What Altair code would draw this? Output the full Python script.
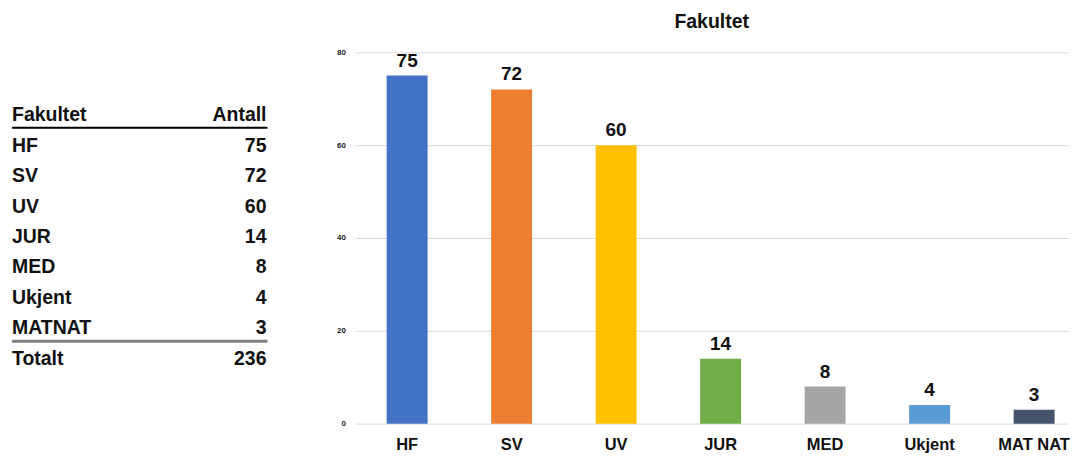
import altair as alt
import pandas as pd

# ---- data ----
fakulteter = ["HF", "SV", "UV", "JUR", "MED", "Ukjent", "MATNAT"]
akse_etiketter = ["HF", "SV", "UV", "JUR", "MED", "Ukjent", "MAT NAT"]
antall = [75, 72, 60, 14, 8, 4, 3]
farger = ["#4472C4", "#ED7D31", "#FFC000", "#70AD47", "#A5A5A5", "#5B9BD5", "#44546A"]
totalt = 236
y_ticks = [0, 20, 40, 60, 80]
tabell_hode = ["Fakultet", "Antall"]
total_tekst = "Totalt"

FONT = "Liberation Sans"

# ---- table panel ----
venstre = [tabell_hode[0]] + fakulteter + [total_tekst]
hoyre = [tabell_hode[1]] + [str(v) for v in antall] + [str(totalt)]
tab_df = pd.DataFrame({"rad": list(range(len(venstre))), "venstre": venstre, "hoyre": hoyre})

ty = alt.Y("rad:Q", scale=alt.Scale(domain=[0, 8], range=[63, 307]), axis=None)
tab_base = alt.Chart(tab_df)
t_left = tab_base.mark_text(align="left", baseline="middle", font=FONT, fontWeight="bold",
                            fontSize=19.5, color="#111").encode(
    x=alt.value(4), y=ty, text="venstre:N")
t_right = tab_base.mark_text(align="right", baseline="middle", font=FONT, fontWeight="bold",
                             fontSize=19.5, color="#111").encode(
    x=alt.value(259), y=ty, text="hoyre:N")
one = pd.DataFrame({"k": [0]})
rule_head = alt.Chart(one).mark_rule(color="#000", strokeWidth=2).encode(
    x=alt.value(4), x2=alt.value(260), y=alt.value(75.5))
rule_tot = alt.Chart(one).mark_rule(color="#808080", strokeWidth=3).encode(
    x=alt.value(4), x2=alt.value(260), y=alt.value(289.5))

table = alt.layer(t_left, t_right, rule_head, rule_tot).properties(width=270, height=372)

# ---- bar panel ----
bar_df = pd.DataFrame({"fak": akse_etiketter, "antall": antall, "farge": farger})
xenc = alt.X("fak:N", sort=akse_etiketter,
             scale=alt.Scale(paddingInner=0.608, paddingOuter=0.214, align=0.7),
             axis=alt.Axis(title=None, labelAngle=0, ticks=False, domain=False,
                           labelFont=FONT, labelFontWeight="bold", labelFontSize=16.5,
                           labelColor="#111", labelPadding=13))
yenc = alt.Y("antall:Q", scale=alt.Scale(domain=[0, 80]),
             axis=alt.Axis(values=y_ticks, title=None, ticks=False, domain=False,
                           gridColor="#d9d9d9", labelFont=FONT, labelFontSize=8,
                           labelFontWeight="bold", labelColor="#222", labelPadding=10,
                           minExtent=40, maxExtent=40))
base = alt.Chart(bar_df).encode(x=xenc)
bars = base.mark_bar().encode(y=yenc, color=alt.Color("farge:N", scale=None))
labels = base.mark_text(dy=-9, baseline="alphabetic", font=FONT, fontWeight="bold",
                        fontSize=19, color="#111").encode(y="antall:Q", text="antall:Q")

barchart = alt.layer(bars, labels).properties(
    width=714, height=372,
    title=alt.TitleParams("Fakultet", font=FONT, fontSize=19.5, fontWeight="bold",
                          color="#111", anchor="middle", frame="group", offset=16))

chart = alt.hconcat(table, barchart, spacing=38).properties(
    padding={"left": 0, "top": 3, "right": 0, "bottom": 0},
    background="white",
).configure_view(stroke="transparent", strokeWidth=0)

chart.save("out.html", embed_options={"renderer": "svg", "actions": False})
